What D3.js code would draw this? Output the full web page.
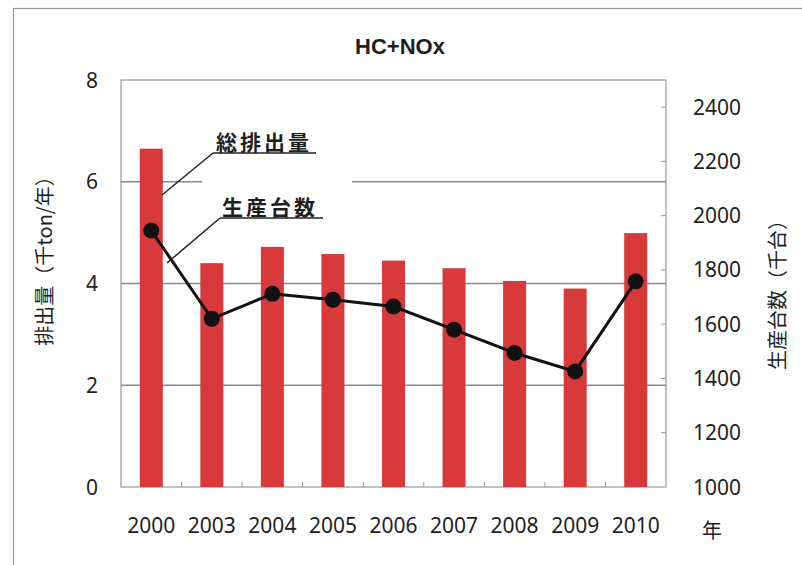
<!DOCTYPE html>
<html><head><meta charset="utf-8">
<script src="https://cdn.jsdelivr.net/npm/d3@7/dist/d3.min.js"></script>
<style>
body{margin:0;background:#fff;}
text{font-family:"Noto Sans CJK JP","Noto Sans",sans-serif;fill:#1e1e1e;}
.num{font-family:"Noto Sans","Open Sans",sans-serif;}
</style></head><body>
<svg id="c" width="802" height="565"></svg>
<script>
const years = ["2000","2003","2004","2005","2006","2007","2008","2009","2010"];
const emissions = [6.65, 4.40, 4.72, 4.58, 4.45, 4.30, 4.05, 3.90, 4.99];
const production = [1945, 1620, 1712, 1690, 1665, 1580, 1494, 1426, 1758];
const leftTicks = [0, 2, 4, 6, 8];
const rightTicks = [1000, 1200, 1400, 1600, 1800, 2000, 2200, 2400];
const title = "HC+NOx";
const leftTitle = "排出量（千ton/年）";
const rightTitle = "生産台数（千台）";
const xUnit = "年";
const labelEmission = "総排出量";
const labelProduction = "生産台数";

const svg = d3.select("#c");
const L = 121, R = 666, T = 80, B = 487;

// outer frame (cropped)
svg.append("rect").attr("x",13.5).attr("y",8.5).attr("width",820).attr("height",600)
  .attr("fill","none").attr("stroke","#999").attr("stroke-width",1.2);

const x = d3.scaleBand().domain(years).range([L,R]).paddingInner(0.62).paddingOuter(0.31);
const yL = d3.scaleLinear().domain([0,8]).range([B,T]);
const yR = d3.scaleLinear().domain([1000,2500]).range([B,T]);

// plot border
svg.append("rect").attr("x",L).attr("y",T).attr("width",R-L).attr("height",B-T)
  .attr("fill","none").attr("stroke","#999").attr("stroke-width",1.2);

// gridlines
svg.append("g").selectAll("line").data(leftTicks.filter(d=>d>0&&d<8)).join("line")
  .attr("x1",L).attr("x2",R).attr("y1",d=>yL(d)).attr("y2",d=>yL(d))
  .attr("stroke","#8a8a8a").attr("stroke-width",1.5);

// white box hiding grid behind annotations
svg.append("rect").attr("x",202).attr("y",128).attr("width",150).attr("height",100).attr("fill","#fff");

// x minor ticks
const bw = x.step();
svg.append("g").selectAll("line").data(years.slice(0,-1)).join("line")
  .attr("x1",d=>x(d)+x.bandwidth()/2+bw/2).attr("x2",d=>x(d)+x.bandwidth()/2+bw/2)
  .attr("y1",B).attr("y2",B-5).attr("stroke","#999").attr("stroke-width",1);

// right ticks
svg.append("g").selectAll("line").data(rightTicks.slice(1)).join("line")
  .attr("x1",R).attr("x2",R-5).attr("y1",d=>yR(d)).attr("y2",d=>yR(d))
  .attr("stroke","#999").attr("stroke-width",1);

// bars
svg.append("g").selectAll("rect").data(years).join("rect")
  .attr("x",d=>x(d)).attr("width",x.bandwidth())
  .attr("y",(d,i)=>yL(emissions[i])).attr("height",(d,i)=>B-yL(emissions[i]))
  .attr("fill","#d8393b");

// line
const cx = d=>x(d)+x.bandwidth()/2;
svg.append("path").datum(years)
  .attr("d", d3.line().x(d=>cx(d)).y((d,i)=>yR(production[i])))
  .attr("fill","none").attr("stroke","#111").attr("stroke-width",3);
svg.append("g").selectAll("circle").data(years).join("circle")
  .attr("cx",cx).attr("cy",(d,i)=>yR(production[i])).attr("r",8).attr("fill","#111");

// left axis labels
svg.append("g").selectAll("text").data(leftTicks).join("text").attr("class","num")
  .attr("x",98).attr("y",d=>yL(d)).attr("dy","0.36em").attr("text-anchor","end")
  .attr("font-size",21).text(d=>d);
// right axis labels
svg.append("g").selectAll("text").data(rightTicks).join("text").attr("class","num")
  .attr("x",693).attr("y",d=>yR(d)).attr("dy","0.36em").attr("text-anchor","start")
  .attr("font-size",21).text(d=>d);
// x labels
svg.append("g").selectAll("text").data(years).join("text").attr("class","num")
  .attr("x",cx).attr("y",525).attr("dy","0.36em").attr("text-anchor","middle")
  .attr("font-size",21).text(d=>d);
svg.append("text").attr("x",712).attr("y",531).attr("dy","0.36em").attr("text-anchor","middle")
  .attr("font-size",20).text(xUnit);

// title
svg.append("text").attr("x",400).attr("y",46).attr("dy","0.36em").attr("text-anchor","middle")
  .style("font-family","'Liberation Sans',Arial,sans-serif").attr("font-weight","bold")
  .attr("font-size",22).text(title);

// axis titles
svg.append("text").attr("transform","translate(45,256) rotate(-90)").attr("dy","0.36em")
  .attr("text-anchor","middle").attr("font-size",20).text(leftTitle);
svg.append("text").attr("transform","translate(778,290) rotate(-90)").attr("dy","0.36em")
  .attr("text-anchor","middle").attr("font-size",20).text(rightTitle);

// annotations
function annot(label, tx, ty, ux1, ux2, uy, lx2, ly2){
  svg.append("text").attr("x",tx).attr("y",ty).attr("font-size",21).attr("font-weight","bold")
    .attr("letter-spacing",3).text(label);
  svg.append("line").attr("x1",ux1).attr("x2",ux2).attr("y1",uy).attr("y2",uy)
    .attr("stroke","#222").attr("stroke-width",1.5);
  svg.append("line").attr("x1",ux1).attr("y1",uy).attr("x2",lx2).attr("y2",ly2)
    .attr("stroke","#222").attr("stroke-width",1.5);
}
annot(labelEmission, 216, 150, 213, 316, 153, 162, 195);
annot(labelProduction, 222, 215, 220, 323, 218, 167, 263);
</script></body></html>
